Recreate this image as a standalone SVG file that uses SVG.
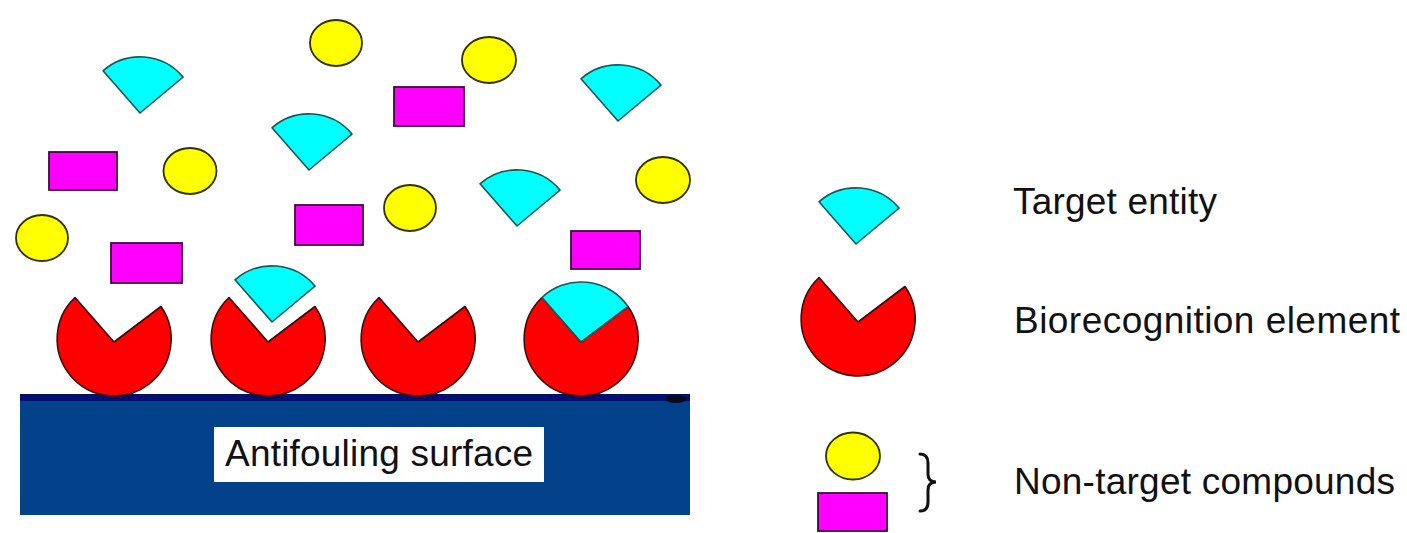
<svg xmlns="http://www.w3.org/2000/svg" xmlns:xlink="http://www.w3.org/1999/xlink" width="1407" height="533" viewBox="0 0 1407 533">
<style>
  .target{fill:#00ffff;stroke:#1b5656;stroke-width:1.6;stroke-linejoin:round}
  .bio{fill:#ff0000;stroke:#3a0a0a;stroke-width:1.6;stroke-linejoin:round}
  .yel{fill:#ffff00;stroke:#333300;stroke-width:1.8}
  .mag{fill:#ff00ff;stroke:#3a0a3a;stroke-width:1.8}
  .lbl{font-family:"Liberation Sans",Arial,sans-serif;font-size:37px;fill:#111}
</style>
<defs>
  <path id="wedge" d="M0,0 L-37,-42.2 A56,56 0 0 1 43,-35.9 Z"/>
  <path id="pac" d="M0,3 L-39,-41.5 A57,57 0 1 0 47,-32.5 Z"/>
  <path id="mouth" d="M0,3 L-39,-41.5 A57,57 0 0 1 47,-32.5 Z"/>
</defs>
<rect width="1407" height="533" fill="#ffffff"/>

<g id="surface">
  <rect x="20" y="394" width="670" height="121" fill="#03428a"/>
  <rect x="20" y="394" width="670" height="7" fill="#00106e"/>
  <ellipse cx="676" cy="399" rx="11" ry="4" fill="#050a20"/>
  <rect x="214" y="427" width="330" height="55" fill="#ffffff"/>
  <text class="lbl" x="225" y="466" textLength="308">Antifouling surface</text>
</g>

<g id="bio1"><use href="#pac" class="bio" transform="translate(114,339)"/></g>
<g id="bio2"><use href="#pac" class="bio" transform="translate(268,339)"/></g>
<g id="bio3"><use href="#pac" class="bio" transform="translate(418,339)"/></g>
<g id="bio4-bound">
  <use href="#pac" class="bio" transform="translate(581,339)"/>
  <use href="#mouth" class="target" transform="translate(581,339)"/>
</g>

<g id="target1"><use href="#wedge" class="target" transform="translate(140,113)"/></g>
<g id="target2"><use href="#wedge" class="target" transform="translate(309,170)"/></g>
<g id="target3"><use href="#wedge" class="target" transform="translate(272,322)"/></g>
<g id="target4"><use href="#wedge" class="target" transform="translate(618,121)"/></g>
<g id="target5"><use href="#wedge" class="target" transform="translate(517,226)"/></g>

<g id="yellow1"><ellipse class="yel" cx="336" cy="43" rx="26" ry="23"/></g>
<g id="yellow2"><ellipse class="yel" cx="190" cy="171" rx="26.5" ry="23"/></g>
<g id="yellow3"><ellipse class="yel" cx="42" cy="238" rx="26" ry="23"/></g>
<g id="yellow4"><ellipse class="yel" cx="489" cy="60" rx="27" ry="23"/></g>
<g id="yellow5"><ellipse class="yel" cx="663" cy="180" rx="27" ry="23"/></g>
<g id="yellow6"><ellipse class="yel" cx="410" cy="208" rx="26" ry="23"/></g>

<g id="magenta1"><rect class="mag" x="49" y="152" width="68" height="38"/></g>
<g id="magenta2"><rect class="mag" x="111" y="243" width="71" height="40"/></g>
<g id="magenta3"><rect class="mag" x="295" y="205" width="68" height="40"/></g>
<g id="magenta4"><rect class="mag" x="394" y="87" width="70" height="39"/></g>
<g id="magenta5"><rect class="mag" x="571" y="231" width="69" height="38"/></g>

<g id="legend-target">
  <use href="#wedge" class="target" transform="translate(856,244)"/>
  <text class="lbl" x="1013" y="214" textLength="204">Target entity</text>
</g>
<g id="legend-bio">
  <use href="#pac" class="bio" transform="translate(858,319)"/>
  <text class="lbl" x="1014" y="333" textLength="386">Biorecognition element</text>
</g>
<g id="legend-nontarget">
  <ellipse class="yel" cx="853" cy="456" rx="27" ry="23.5"/>
  <rect class="mag" x="818" y="493" width="69" height="38"/>
  <text class="lbl" x="1014" y="494" textLength="381">Non-target compounds</text>
</g>
<g id="connectors">
  <path d="M920,454 Q928,454 928,463 L928,474 Q928,482 936,482 Q928,482 928,490 L928,502 Q928,511 920,511" fill="none" stroke="#111" stroke-width="3" stroke-linecap="round"/>
</g>
</svg>
